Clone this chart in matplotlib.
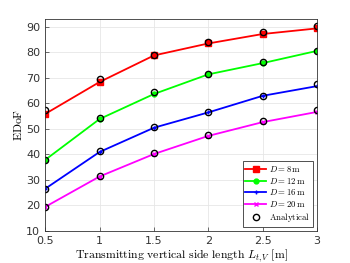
import matplotlib
matplotlib.use('Agg')
import matplotlib.pyplot as plt

plt.rcParams['mathtext.fontset'] = 'cm'

L = [0.5, 1, 1.5, 2, 2.5, 3]

sim_8 = [55.8, 68.3, 78.7, 83.4, 87.1, 89.3]
sim_12 = [37.8, 53.8, 63.6, 71.3, 75.7, 80.5]
sim_16 = [26.5, 40.9, 50.4, 56.4, 62.9, 66.7]
sim_20 = [19.4, 31.3, 40.1, 47.2, 52.6, 56.6]

ana_8 = [57.2, 69.3, 78.9, 84.0, 87.8, 90.4]
ana_12 = [37.9, 54.3, 64.5, 71.6, 76.0, 80.6]
ana_16 = [26.5, 41.4, 50.7, 56.6, 63.0, 67.4]
ana_20 = [19.5, 31.6, 40.6, 47.4, 52.9, 57.3]

labels = [r'$D=8\,\mathrm{m}$', r'$D=12\,\mathrm{m}$',
          r'$D=16\,\mathrm{m}$', r'$D=20\,\mathrm{m}$']
colors = ['#ff0000', '#00ff00', '#0000ff', '#ff00ff']
markers = ['s', 'o', '+', 'x']

fig = plt.figure(figsize=(3.5, 2.63), dpi=100)
ax = fig.add_axes([0.129, 0.122, 0.777, 0.806])

sims = [sim_8, sim_12, sim_16, sim_20]
anas = [ana_8, ana_12, ana_16, ana_20]
for s, c, m, lab in zip(sims, colors, markers, labels):
    ms = 4 if m == 's' else 3.5
    ax.plot(L, s, color=c, marker=m, markersize=ms, lw=1.3,
            markerfacecolor=c, markeredgecolor=c, label=lab)

for i, a in enumerate(anas):
    ax.plot(L, a, linestyle='none', marker='o', markersize=4.5,
            markerfacecolor='none', markeredgecolor='k', markeredgewidth=1.0,
            label=r'$\mathrm{Analytical}$' if i == 0 else None)

ax.set_xlim(0.5, 3)
ax.set_ylim(10, 93)
ax.set_xticks(L)
ax.set_xticklabels(['0.5', '1', '1.5', '2', '2.5', '3'])
ax.set_yticks(range(10, 91, 10))
ax.grid(True, color='#e6e6e6', lw=0.6)
ax.set_axisbelow(True)
ax.tick_params(labelsize=8, colors='#333333', direction='in', length=3, width=0.5)
for sp in ax.spines.values():
    sp.set_color('#333333')
    sp.set_linewidth(0.6)

ax.set_xlabel(r'$\mathrm{Transmitting\ vertical\ side\ length}\ L_{t,V}\ \mathrm{[m]}$',
              fontsize=8.5, labelpad=1)
ax.set_ylabel(r'$\mathrm{EDoF}$', fontsize=8.5, labelpad=1)

leg = ax.legend(loc='lower right', fontsize=6.3, frameon=True, fancybox=False,
                edgecolor='#333333', framealpha=1, handlelength=2.4,
                handletextpad=0.3, borderpad=0.3, labelspacing=0.2,
                borderaxespad=0.5)
leg.get_frame().set_linewidth(0.6)

fig.savefig('out.png', dpi=100)
